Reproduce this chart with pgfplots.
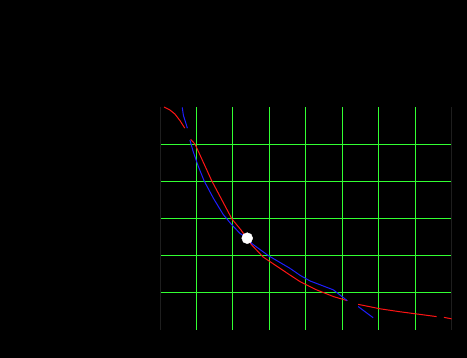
\documentclass[border=0pt]{standalone}
\usepackage{pgfplots}
\pgfplotsset{compat=1.18}
\definecolor{gridgreen}{RGB}{50,255,50}
\definecolor{cred}{RGB}{255,20,20}
\definecolor{cblue}{RGB}{30,30,255}
\definecolor{frame}{RGB}{30,30,30}
\begin{document}
\begin{tikzpicture}[x=1pt,y=1pt]
\fill[black] (0,0) rectangle (467,358);
\useasboundingbox (0,0) rectangle (467,358);
\begin{axis}[
  at={(160pt,28pt)}, anchor=south west,
  scale only axis, width=292pt, height=223pt,
  xmin=0, xmax=8, ymin=0, ymax=6,
  xtick={1,2,3,4,5,6,7}, ytick={1,2,3,4,5},
  xticklabels={}, yticklabels={},
  major tick length=0pt,
  grid=major,
  major grid style={gridgreen, line width=1pt},
  separate axis lines,
  x axis line style={draw=none},
  y axis line style={frame, line width=1pt},
  clip=true,
]
% red curve
\addplot[cred, line width=1pt] coordinates {(0.11,6.0) (0.27,5.92) (0.41,5.81) (0.55,5.63) (0.68,5.43)};
\addplot[cred, line width=1pt] coordinates {(0.84,5.13) (0.96,5.0) (1.42,4.01) (1.97,2.99) (2.22,2.69) (2.51,2.29) (2.83,1.96) (3.56,1.48) (3.84,1.30) (4.29,1.08) (4.75,0.90) (5.13,0.79)};
\addplot[cred, line width=1pt] coordinates {(5.43,0.69) (6.03,0.57) (6.58,0.49) (7.58,0.36)};
\addplot[cred, line width=1pt] coordinates {(7.78,0.34) (7.99,0.30)};
% blue curve
\addplot[cblue, line width=1pt] coordinates {(0.61,5.99) (0.64,5.78) (0.75,5.43)};
\addplot[cblue, line width=1pt] coordinates {(0.82,5.11) (0.91,4.80) (1.05,4.40) (1.21,4.01) (1.46,3.55) (1.73,3.11) (1.95,2.85) (2.19,2.60) (2.39,2.47) (2.51,2.33) (2.97,2.0) (3.56,1.66) (3.84,1.47) (4.11,1.32) (4.75,1.08) (5.13,0.79)};
\addplot[cblue, line width=1pt] coordinates {(5.43,0.63) (5.84,0.33)};
% point
\addplot[only marks, mark=*, mark size=5.5pt, mark options={fill=white, draw=white}] coordinates {(2.39,2.47)};
\end{axis}
\end{tikzpicture}
\end{document}
